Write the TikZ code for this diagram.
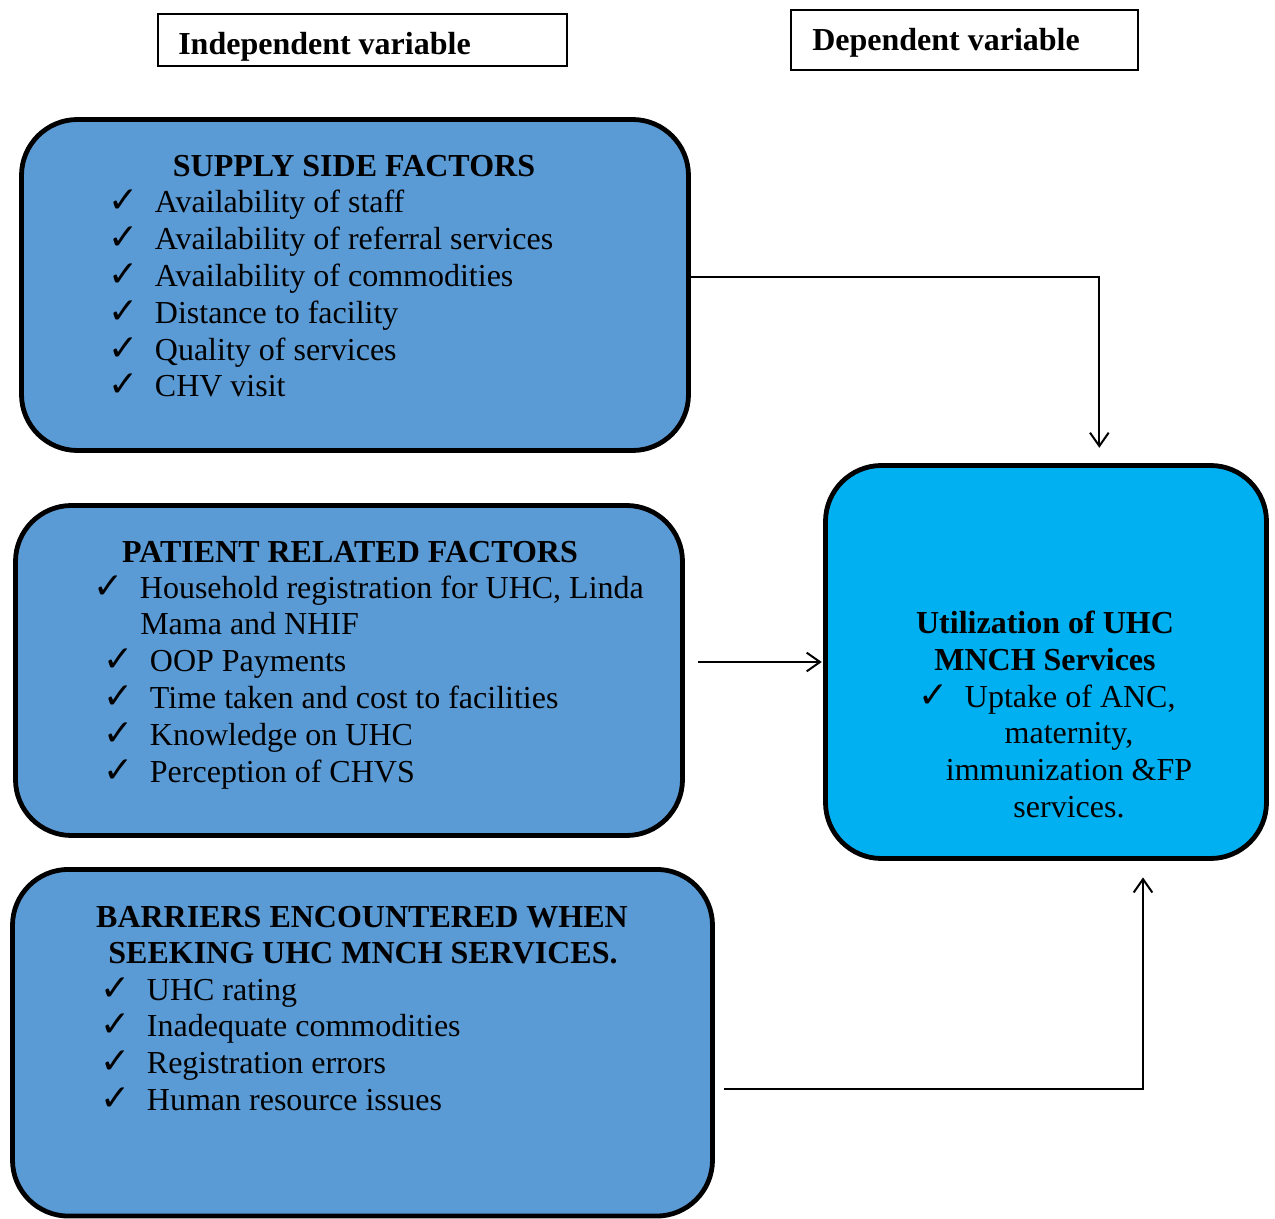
\documentclass[tikz,border=0pt]{standalone}
\usepackage{fontspec}
\setmainfont{Liberation Serif}
\newfontfamily\symfont{DejaVu Sans}
\usetikzlibrary{arrows.meta}
\definecolor{boxblue}{HTML}{5B9BD5}
\definecolor{utilblue}{HTML}{00B0F0}
\newcommand\chk{\makebox[35pt][l]{\symfont\fontsize{27}{27}\selectfont ✓}}

\tikzset{
  factor/.style={draw, line width=3.6pt, rounded corners=42pt, fill=boxblue, inner sep=0pt},
  heading/.style={draw, line width=1pt, inner sep=0pt},
  title/.style={anchor=base, inner sep=0pt, font=\fontsize{24}{28}\selectfont\bfseries},
  item/.style={anchor=base west, inner sep=0pt, font=\fontsize{24}{28}\selectfont},
  centred/.style={anchor=base, inner sep=0pt, font=\fontsize{24}{28}\selectfont},
  link/.style={line width=1.5pt, -{Straight Barb[length=10pt,width=14pt]}},
}

\begin{document}
\begin{tikzpicture}[x=0.75pt, y=-0.75pt]
\useasboundingbox (0,0) rectangle (1275,1219);

% headings
\node[heading, minimum width=306.75pt, minimum height=39pt] (indep) at (362.5,40) {};
\node[item, font=\fontsize{24}{28}\selectfont\bfseries] (indeptext) at (178,55) {Independent variable};
\node[heading, minimum width=260.25pt, minimum height=45pt] (dep) at (964.5,40) {};
\node[item, font=\fontsize{24}{28}\selectfont\bfseries] (deptext) at (812,51) {Dependent variable};

% factor boxes
\node[factor, minimum width=500.25pt, minimum height=248.25pt] (supply) at (355,285) {};
\node[factor, minimum width=500.25pt, minimum height=247.5pt] (patient) at (349,670.5) {};
\node[factor, minimum width=525pt, minimum height=260pt] (barriers) at (362.5,1042.75) {};
\node[factor, fill=utilblue, minimum width=330.75pt, minimum height=294.75pt] (util) at (1046,662) {};

% supply side
\node[title] (suptitle) at (354,177) {SUPPLY SIDE FACTORS};
\foreach \t [count=\i from 0] in {Availability of staff, Availability of referral services,
    Availability of commodities, Distance to facility, Quality of services, CHV visit}
  \node[item] (sup\i) at (108,{213+36.8*\i}) {\chk\t};

% patient related
\node[title] (pattitle) at (350,562) {PATIENT RELATED FACTORS};
\node[item] (pat0) at (93,598) {\chk Household registration for UHC, Linda};
\node[item] (pat0b) at (140,634.8) {Mama and NHIF};
\foreach \t [count=\i] in {OOP Payments, Time taken and cost to facilities,
    Knowledge on UHC, Perception of CHVS}
  \node[item] (pat\i) at (103,{634.8+36.8*\i}) {\chk\t};

% barriers
\node[title] (bartitle1) at (362,927) {BARRIERS ENCOUNTERED WHEN};
\node[title] (bartitle2) at (363,963) {SEEKING UHC MNCH SERVICES.};
\foreach \t [count=\i from 0] in {UHC rating, Inadequate commodities,
    Registration errors, Human resource issues}
  \node[item] (bar\i) at (100,{1000+36.8*\i}) {\chk\t};

% utilization
\node[title] (utiltitle1) at (1045,633) {Utilization of UHC};
\node[title] (utiltitle2) at (1045,670) {MNCH Services};
\node[item] (util0) at (918,707) {\chk Uptake of ANC,};
\foreach \t [count=\i] in {{maternity,}, immunization \&FP, services.}
  \node[centred] (util\i) at (1069,{707+36.7*\i}) {\t};

\draw[link, shorten >=11.5pt] ([yshift=6pt]supply.east) -| ([xshift=40pt]util.north);
\draw[link, shorten >=1pt] ([xshift=10pt]patient.east |- util.west) -- (util.west);
\draw[link, shorten >=12.4pt] ([xshift=7pt,yshift=-35pt]barriers.east) -| ([xshift=72.75pt]util.south);

\end{tikzpicture}
\end{document}
